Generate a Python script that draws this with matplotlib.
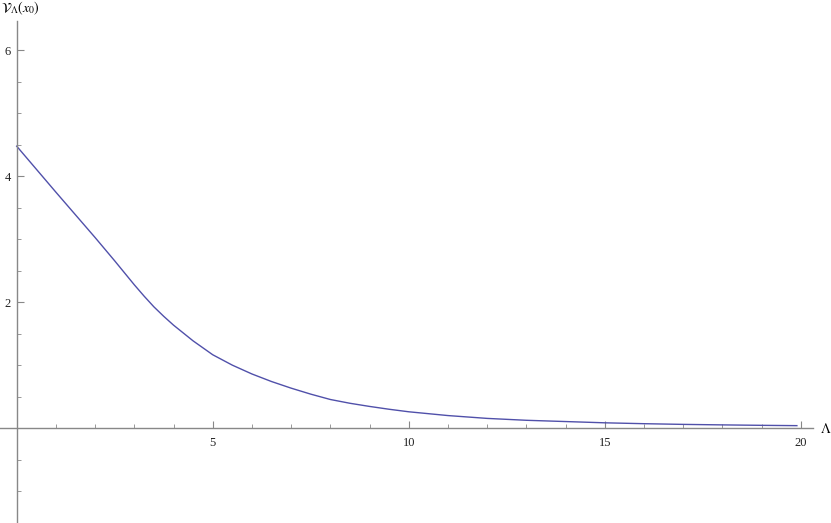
import numpy as np
import matplotlib
matplotlib.use('Agg')
import matplotlib.pyplot as plt
from matplotlib.ticker import FixedLocator

# values
lam = [0, 1, 2, 2.5, 3, 3.25, 3.5, 3.75, 4, 4.5, 5, 5.5, 6, 6.5, 7, 7.5, 8, 8.5, 9, 9.5,
       10, 11, 12, 13, 14, 15, 16, 17, 18, 19, 19.9]
vlam = [4.48, 3.75, 3.03, 2.66, 2.28, 2.10, 1.93, 1.78, 1.64, 1.39, 1.17, 1.005, 0.865,
        0.745, 0.64, 0.545, 0.46, 0.40, 0.35, 0.305, 0.265, 0.205, 0.16, 0.13, 0.11,
        0.09, 0.076, 0.065, 0.057, 0.05, 0.045]

x_major = [5, 10, 15, 20]
x_minor = [1, 2, 3, 4, 6, 7, 8, 9, 11, 12, 13, 14, 16, 17, 18, 19]
y_major = [2, 4, 6]
y_minor = [-1.5, -1, -0.5, 0.5, 1, 1.5, 2.5, 3, 3.5, 4.5, 5, 5.5]

plt.rcParams['mathtext.fontset'] = 'stix'
plt.rcParams['font.family'] = ['Liberation Serif', 'DejaVu Serif']

fig = plt.figure(figsize=(8.31, 5.23), dpi=100)
ax = fig.add_axes([0, 0, 1, 1])

ax.plot(lam, vlam, color='#5050aa', lw=1.0, solid_joinstyle='round')

ax.set_xlim(-0.426, 20.77)
ax.set_ylim(-1.50, 6.80)

ax.spines['top'].set_visible(False)
ax.spines['right'].set_visible(False)
axcol = '#888888'
for s in ['left', 'bottom']:
    ax.spines[s].set_position(('data', 0))
    ax.spines[s].set_color(axcol)
    ax.spines[s].set_linewidth(1.0)
ax.spines['left'].set_bounds(-1.5, 6.47)
ax.spines['bottom'].set_bounds(-0.426, 20.3)

ax.xaxis.set_major_locator(FixedLocator(x_major))
ax.xaxis.set_minor_locator(FixedLocator(x_minor))
ax.yaxis.set_major_locator(FixedLocator(y_major))
ax.yaxis.set_minor_locator(FixedLocator(y_minor))
ax.set_xticklabels([str(v) for v in x_major])
ax.set_yticklabels([str(v) for v in y_major])

ax.tick_params(axis='both', which='major', direction='in', length=5, width=0.8,
               color=axcol, labelsize=9, labelcolor='#222222')
ax.tick_params(axis='both', which='minor', direction='in', length=3, width=0.6,
               color=axcol)
ax.tick_params(axis='x', which='major', pad=6)
ax.tick_params(axis='y', which='major', pad=4)

fig.text(0.001, 0.985, r'$\mathcal{V}_{\Lambda}(x_0)$', fontsize=10, ha='left', va='center')
fig.text(826 / 831, 1 - 429 / 523, r'$\Lambda$', fontsize=10, ha='center', va='center')

fig.savefig('out.png', dpi=100)
